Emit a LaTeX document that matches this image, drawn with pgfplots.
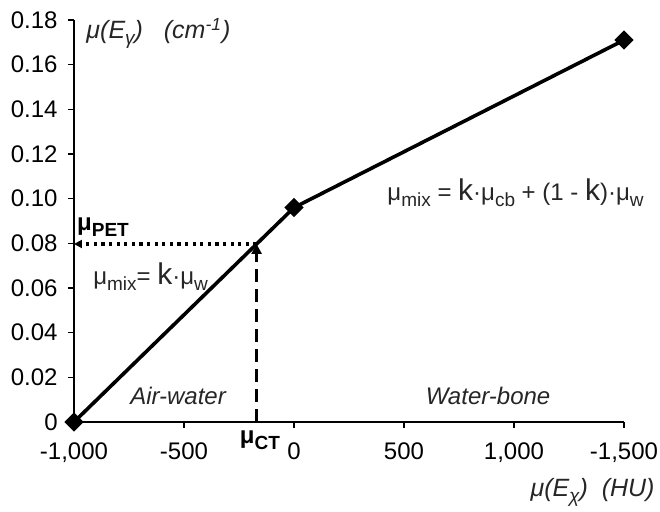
\documentclass[border=0pt]{standalone}
\usepackage{fontspec}
\setmainfont{Liberation Sans}
\usepackage{pgfplots}
\pgfplotsset{compat=1.18}
\usetikzlibrary{arrows.meta}
% lowered subscript in text font
\newcommand{\sub}[1]{\raisebox{-0.45ex}{\fontsize{9.5}{10}\selectfont #1}}
\newcommand{\kk}{{\fontsize{15}{16}\selectfont k}}
\colorlet{txt}{black!85}

\begin{document}
\begin{tikzpicture}
\fontsize{12}{14}\selectfont
\begin{axis}[
  at={(0,0)}, anchor=south west,
  scale only axis, width=275pt, height=201pt,
  xmin=-1000, xmax=1500, ymin=0, ymax=0.18,
  axis x line*=bottom, axis y line*=left,
  axis line style={line width=0.75pt},
  xtick={-1000,-500,0,500,1000,1500},
  xticklabels={{-1,000},{-500},{0},{500},{1,000},{-1,500}},
  ytick={0,0.02,0.04,0.06,0.08,0.10,0.12,0.14,0.16,0.18},
  yticklabels={0,0.02,0.04,0.06,0.08,0.10,0.12,0.14,0.16,0.18},
  tick align=outside, major tick length=3pt,
  tick style={black, line width=0.75pt},
  ticklabel style={font=\fontsize{12}{14}\selectfont},
  yticklabel style={xshift=-1pt},
  xticklabel style={yshift=-3pt},
  clip=false,
]
% attenuation conversion curve
\addplot[black, line width=1.8pt, mark=square*, mark size=2.5pt,
  mark options={rotate=45, solid}] coordinates {(-1000,0) (0,0.096) (1500,0.171)};
% CT value up to the curve
\addplot[black, line width=1.4pt, dash pattern=on 6.5pt off 3.5pt,
  -{Triangle[length=5pt,width=5pt]}] coordinates {(-170,0) (-170,0.0797)};
% read-off to the PET axis
\addplot[black, line width=1.6pt, dash pattern=on 1.6pt off 2.2pt,
  -{Triangle[length=4pt,width=4pt]}] coordinates {(-170,0.0797) (-1000,0.0797)};

\node[anchor=west, inner sep=0pt, font=\itshape\fontsize{12.5}{14}\selectfont, text=txt] at (axis cs:-945,0.174) {μ(E\sub{γ})\ \ \ (cm\textsuperscript{-1})};
\node[font=\bfseries] at (axis cs:-868,0.0873) {μ\sub{PET}};
\node[anchor=west, inner sep=0pt, text=txt] at (axis cs:-914,0.065) {μ\sub{mix}= \kk·μ\sub{w}};
\node[anchor=west, inner sep=0pt, text=txt] at (axis cs:423,0.1025) {μ\sub{mix} = \kk·μ\sub{cb} + (1 - \kk)·μ\sub{w}};
\node[font=\itshape, text=txt] at (axis cs:-527,0.0115) {Air-water};
\node[font=\itshape, text=txt] at (axis cs:882,0.0115) {Water-bone};
\node[font=\bfseries, yshift=-9pt] at (axis cs:-155,0) {μ\sub{CT}};
\node[anchor=east, inner sep=0pt, font=\itshape\fontsize{12.5}{14}\selectfont, text=txt, xshift=15.5pt, yshift=-35pt] at (axis cs:1500,0) {μ(E\sub{χ})\ \ (HU)};
\end{axis}
\pgfresetboundingbox
\path (-37pt,-45pt) rectangle (293pt,211pt);
\end{tikzpicture}
\end{document}
